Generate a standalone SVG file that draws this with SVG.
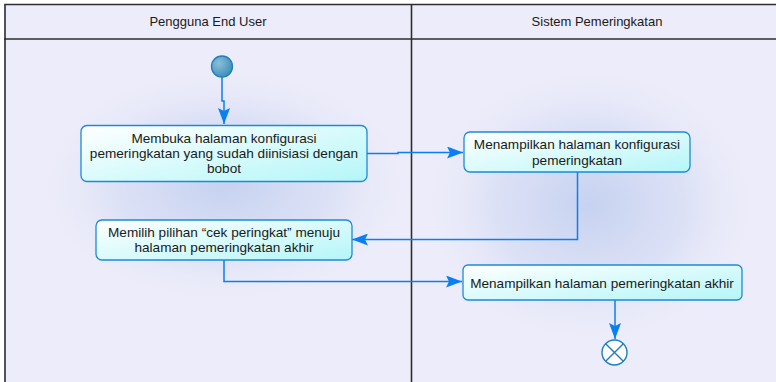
<svg xmlns="http://www.w3.org/2000/svg" width="776" height="382" viewBox="0 0 776 382">
<defs>
<linearGradient id="boxfill" x1="0" y1="0" x2="1" y2="1">
<stop offset="0" stop-color="#ffffff"/>
<stop offset="1" stop-color="#b4f6f8"/>
</linearGradient>
<radialGradient id="glow">
<stop offset="0" stop-color="#c6d2f0" stop-opacity="1"/>
<stop offset="0.55" stop-color="#d2daf3" stop-opacity="0.65"/>
<stop offset="1" stop-color="#ececfa" stop-opacity="0"/>
</radialGradient>
<radialGradient id="startfill" cx="0.35" cy="0.35" r="0.7">
<stop offset="0" stop-color="#8cc0d8"/>
<stop offset="1" stop-color="#3d8fb8"/>
</radialGradient>
<marker id="arr" viewBox="0 0 16 12" refX="16" refY="6" markerWidth="16" markerHeight="12" markerUnits="userSpaceOnUse" orient="auto">
<path d="M0,0 L16,6 L0,12 L3,6 Z" fill="#0a7ff2"/>
</marker>
<style>
.lane{fill:#ececfa;stroke:none}
.frame{fill:none;stroke:#2e2e2e;stroke-width:1.6}
.hdr{font-family:"Liberation Sans",Arial,sans-serif;font-size:13px;fill:#1a1a1a;text-anchor:middle}
.box{fill:url(#boxfill);stroke:#1d8ad6;stroke-width:1.3}
.txt{font-family:"Liberation Sans",Arial,sans-serif;font-size:13.6px;fill:#1a1a1a;text-anchor:middle}
.conn{fill:none;stroke:#0a7ff2;stroke-width:1.5;marker-end:url(#arr)}
</style>
</defs>
<rect class="lane" x="4" y="4" width="772" height="378"/>
<ellipse cx="224" cy="185" rx="190" ry="120" fill="url(#glow)"/>
<ellipse cx="590" cy="205" rx="170" ry="140" fill="url(#glow)"/>
<g id="frame">
<path class="frame" d="M5,382 V4.5 H776 M4,39 H776 M411.5,4 V382"/>
<text class="hdr" x="208" y="25.5">Pengguna End User</text>
<text class="hdr" x="597" y="25.5">Sistem Pemeringkatan</text>
</g>
<g id="connectors">
<path class="conn" d="M222,77 V101 H224 V124"/>
<path class="conn" d="M367,153.5 H398 V152.5 H463"/>
<path class="conn" d="M577.5,172 V239.5 H352"/>
<path class="conn" d="M224,260 V281.5 H462"/>
<path class="conn" d="M615,300 V339"/>
</g>
<g id="start">
<circle cx="222" cy="66.5" r="10.5" fill="url(#startfill)" stroke="#1d7fc0" stroke-width="1.3"/>
</g>
<g id="node1">
<rect class="box" x="81" y="125.5" width="286" height="56" rx="6"/>
<text class="txt" x="224" y="142.5">Membuka halaman konfigurasi</text>
<text class="txt" x="224" y="157.5">pemeringkatan yang sudah diinisiasi dengan</text>
<text class="txt" x="224" y="172.5">bobot</text>
</g>
<g id="node2">
<rect class="box" x="464" y="132" width="226" height="40" rx="6"/>
<text class="txt" x="577" y="148.5">Menampilkan halaman konfigurasi</text>
<text class="txt" x="577" y="164.5">pemeringkatan</text>
</g>
<g id="node3">
<rect class="box" x="96" y="220" width="256" height="40" rx="6"/>
<text class="txt" x="224" y="237">Memilih pilihan “cek peringkat” menuju</text>
<text class="txt" x="224" y="252">halaman pemeringkatan akhir</text>
</g>
<g id="node4">
<rect class="box" x="463" y="265" width="279" height="35" rx="5"/>
<text class="txt" x="602" y="287.5">Menampilkan halaman pemeringkatan akhir</text>
</g>
<g id="end">
<circle cx="614.5" cy="352.5" r="12.5" fill="#ffffff" stroke="#1d7fc0" stroke-width="1.4"/>
<path d="M605.7,343.7 L623.3,361.3 M623.3,343.7 L605.7,361.3" stroke="#1d7fc0" stroke-width="1.4"/>
</g>
</svg>
